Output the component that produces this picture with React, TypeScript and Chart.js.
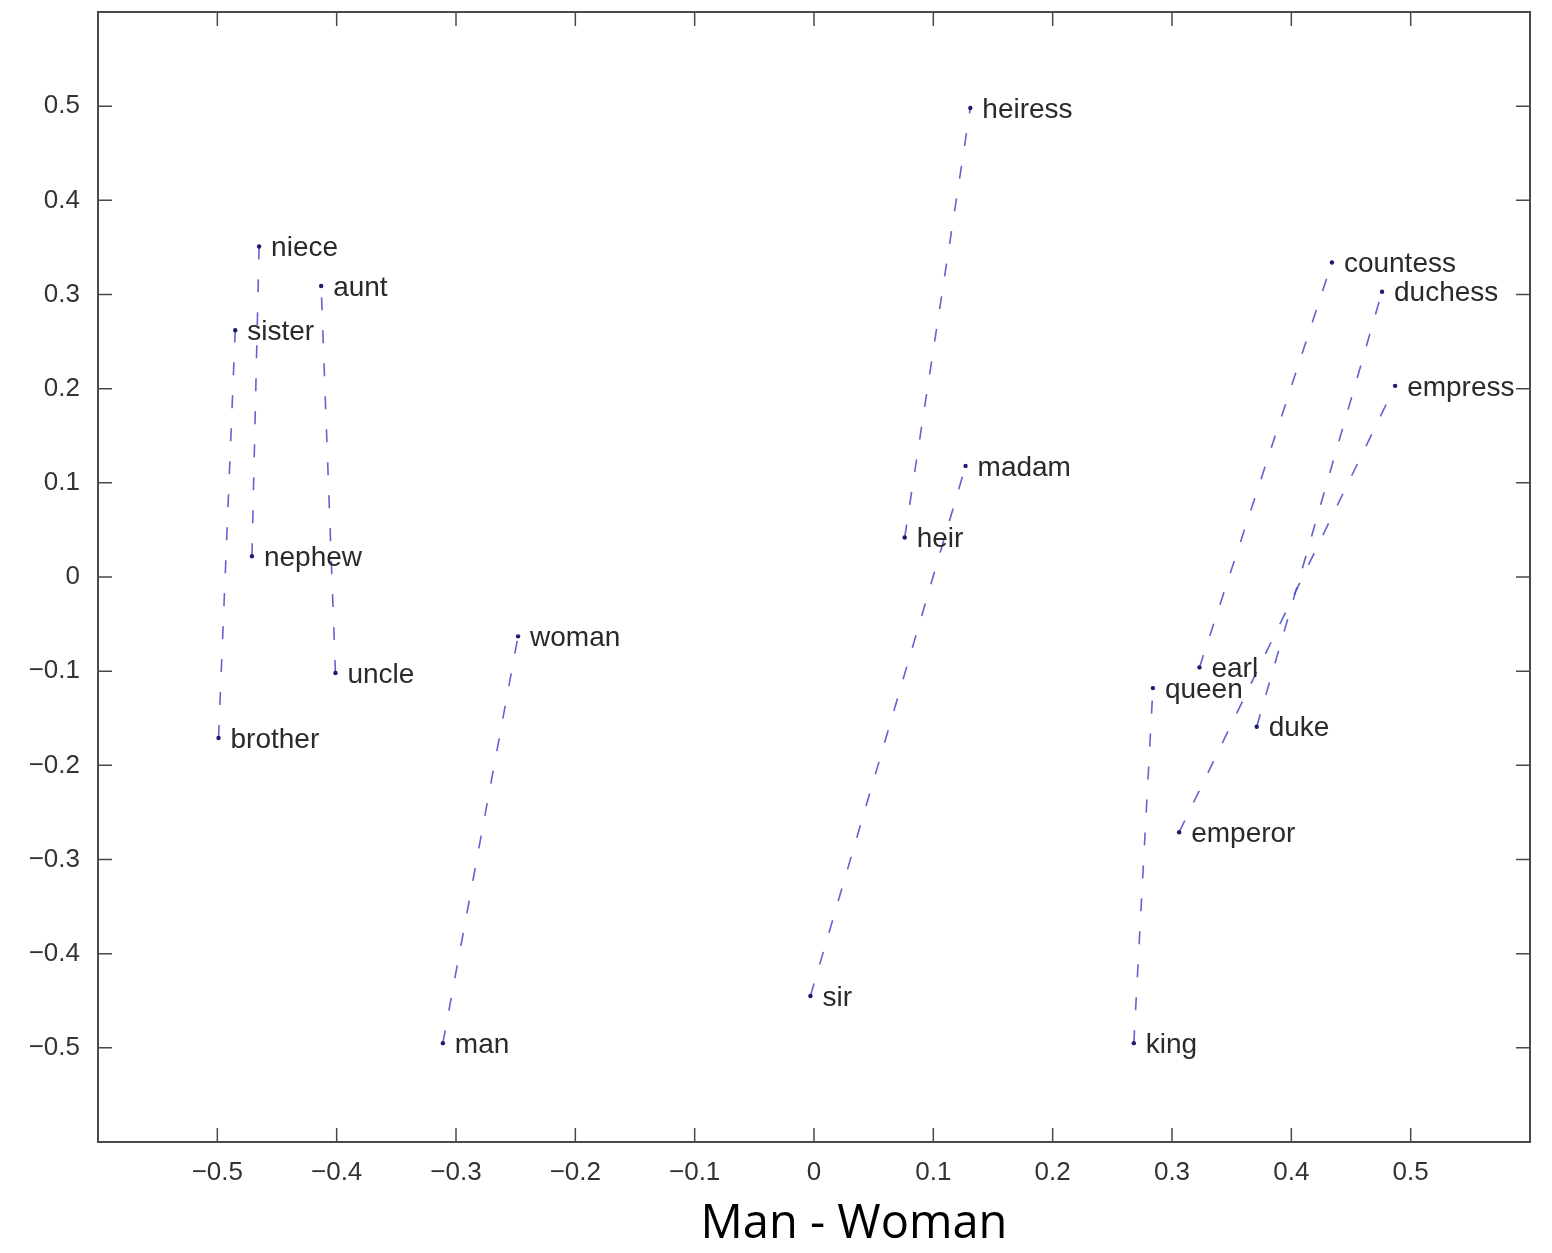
import React, { useEffect, useRef } from 'react';
import { Chart, registerables } from 'chart.js';

Chart.register(...registerables);

const maleWords = ['brother', 'nephew', 'uncle', 'man', 'sir', 'heir', 'king', 'earl', 'duke', 'emperor'];
const maleX = [-0.499, -0.471, -0.401, -0.311, -0.003, 0.076, 0.268, 0.323, 0.371, 0.306];
const maleY = [-0.171, 0.022, -0.102, -0.495, -0.445, 0.042, -0.495, -0.096, -0.159, -0.271];

const femaleWords = ['sister', 'niece', 'aunt', 'woman', 'madam', 'heiress', 'queen', 'countess', 'duchess', 'empress'];
const femaleX = [-0.485, -0.465, -0.413, -0.248, 0.127, 0.131, 0.284, 0.434, 0.476, 0.487];
const femaleY = [0.262, 0.351, 0.309, -0.063, 0.118, 0.498, -0.118, 0.334, 0.303, 0.203];

const xTicks = [-0.5, -0.4, -0.3, -0.2, -0.1, 0, 0.1, 0.2, 0.3, 0.4, 0.5];
const yTicks = [-0.5, -0.4, -0.3, -0.2, -0.1, 0, 0.1, 0.2, 0.3, 0.4, 0.5];

const xTitle = 'Man - Woman';

const fmt = (v: number) => {
  const r = Math.round(v * 10) / 10;
  if (Math.abs(r) > 0.55) return '';
  if (r === 0) return '0';
  return (r < 0 ? '\u2212' : '') + Math.abs(r).toFixed(1);
};

export default function App() {
  const ref = useRef<HTMLCanvasElement>(null);

  useEffect(() => {
    if (!ref.current) return;
    const datasets = maleWords.map((m, i) => ({
      label: m + '-' + femaleWords[i],
      data: [
        { x: maleX[i], y: maleY[i], word: m },
        { x: femaleX[i], y: femaleY[i], word: femaleWords[i] },
      ],
      showLine: true,
      borderColor: 'rgba(70,70,200,0.85)',
      borderWidth: 1.6,
      borderDash: [13, 20],
      pointRadius: 2.2,
      pointBackgroundColor: '#1c1c70',
      pointBorderColor: '#1c1c70',
      pointBorderWidth: 0,
    }));

    const framePlugin = {
      id: 'framePlugin',
      beforeDatasetsDraw(chart: any) {
        const { ctx, chartArea } = chart;
        const { left, right, top, bottom } = chartArea;
        const xs = chart.scales.x;
        const ys = chart.scales.y;
        ctx.save();
        ctx.strokeStyle = '#4a4a4a';
        ctx.lineWidth = 2;
        ctx.strokeRect(left, top, right - left, bottom - top);
        ctx.lineWidth = 1.5;
        const tl = 14;
        xTicks.forEach((v) => {
          const px = xs.getPixelForValue(v);
          ctx.beginPath();
          ctx.moveTo(px, bottom);
          ctx.lineTo(px, bottom - tl);
          ctx.moveTo(px, top);
          ctx.lineTo(px, top + tl);
          ctx.stroke();
        });
        yTicks.forEach((v) => {
          const py = ys.getPixelForValue(v);
          ctx.beginPath();
          ctx.moveTo(left, py);
          ctx.lineTo(left + tl, py);
          ctx.moveTo(right, py);
          ctx.lineTo(right - tl, py);
          ctx.stroke();
        });
        ctx.restore();
      },
      afterDatasetsDraw(chart: any) {
        const { ctx } = chart;
        ctx.save();
        ctx.font = '28px "Liberation Sans", Arial, sans-serif';
        ctx.fillStyle = '#2a2a2a';
        ctx.textAlign = 'left';
        ctx.textBaseline = 'middle';
        chart.data.datasets.forEach((ds: any, di: number) => {
          const meta = chart.getDatasetMeta(di);
          meta.data.forEach((pt: any, pi: number) => {
            ctx.fillText(ds.data[pi].word, pt.x + 12, pt.y + 2);
          });
        });
        ctx.font = '47px "Open Sans", "DejaVu Sans", sans-serif';
        ctx.fillStyle = '#000';
        ctx.textAlign = 'center';
        ctx.textBaseline = 'middle';
        ctx.fillText(xTitle, 854, 1225);
        ctx.restore();
      },
    };

    const tickFont = { family: '"Liberation Sans", Arial, sans-serif', size: 26 };

    const chart = new Chart(ref.current, {
      type: 'scatter',
      data: { datasets } as any,
      options: {
        responsive: false,
        animation: false,
        layout: { padding: { left: 8, right: 22, top: 12, bottom: 0 } },
        plugins: { legend: { display: false }, tooltip: { enabled: false } },
        scales: {
          x: {
            type: 'linear',
            min: -0.6,
            max: 0.6,
            grid: { display: false },
            border: { display: false },
            afterBuildTicks: (scale: any) => {
              scale.ticks = xTicks.map((v) => ({ value: v }));
            },
            afterFit: (scale: any) => {
              scale.height = 111;
              scale.paddingLeft = 0;
              scale.paddingRight = 0;
            },
            ticks: {
              callback: (v: any) => fmt(Number(v)),
              font: tickFont,
              color: '#333',
              padding: 7,
              maxRotation: 0,
              autoSkip: false,
            },
          },
          y: {
            type: 'linear',
            min: -0.6,
            max: 0.6,
            grid: { display: false },
            border: { display: false },
            afterBuildTicks: (scale: any) => {
              scale.ticks = yTicks.map((v) => ({ value: v }));
            },
            afterFit: (scale: any) => {
              scale.width = 90;
              scale.paddingTop = 0;
              scale.paddingBottom = 0;
            },
            ticks: {
              callback: (v: any) => fmt(Number(v)),
              font: tickFont,
              color: '#333',
              padding: 10,
              autoSkip: false,
            },
          },
        },
      } as any,
      plugins: [framePlugin],
    });

    return () => chart.destroy();
  }, []);

  return (
    <div style={{ position: 'absolute', left: 0, top: 0, width: 1552, height: 1253, background: '#fff' }}>
      <canvas ref={ref} width={1552} height={1253} style={{ width: 1552, height: 1253, display: 'block' }} />
    </div>
  );
}
